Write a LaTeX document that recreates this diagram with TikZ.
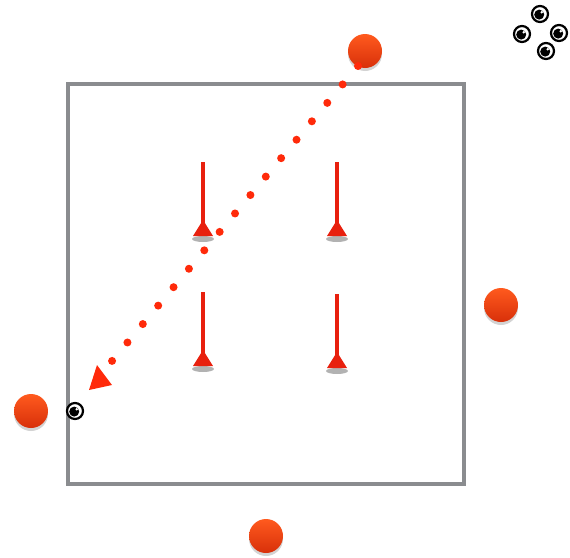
\documentclass[tikz,border=0pt]{standalone}
\usepackage{xcolor}
\usepackage{tikz}
\usetikzlibrary{arrows.meta,calc,positioning,shadows}
\definecolor{fieldGray}{HTML}{8A8C8F}
\definecolor{poleRed}{HTML}{E8200E}
\definecolor{ballTop}{HTML}{FF5A1E}
\definecolor{ballBottom}{HTML}{D8300A}
\definecolor{dotRed}{HTML}{FF2A0A}

\tikzset{
  ball/.style={circle,minimum size=34pt,inner sep=0pt,top color=ballTop,bottom color=ballBottom,
    drop shadow={shadow xshift=0pt,shadow yshift=-3pt,opacity=.35}},
  player/.style={circle,minimum size=16pt,inner sep=0pt,draw=black,line width=2.2pt,fill=white},
}
\newcommand{\playericon}[1]{%
  \fill[black] ($(#1)+(-0.8,0.6)$) circle (5pt);
  \fill[white] ($(#1)+(1.8,-1.8)$) circle (1.4pt);
}
\newcommand{\conepole}[3]{% x, top, base
  \fill[black,opacity=.3] (#1,#3+3) ellipse (11pt and 3pt);
  \fill[poleRed] (#1-2,#2) rectangle (#1+2,#3-6);
  \fill[poleRed] (#1,#3-16) -- (#1+10,#3) -- (#1-10,#3) -- cycle;
}

\begin{document}
\begin{tikzpicture}[x=1pt,y=-1pt,>=Triangle]
    \useasboundingbox (0,0) rectangle (570,557);
    % field
    \draw[fieldGray,line width=4pt] (68,84) rectangle (464,484);
    % poles
    \conepole{203}{162}{236}
    \conepole{337}{162}{236}
    \conepole{203}{292}{366}
    \conepole{337}{294}{368}
    % balls
    \node[ball] (ballN) at (365,51) {};
    \node[ball] (ballE) at (501,305) {};
    \node[ball] (ballW) at (31,411) {};
    \node[ball] (ballS) at (266,536) {};
    % players
    \node[player] (p0) at (75,411) {};
    \playericon{p0}
    \foreach \n/\x/\y in {p1/540/14,p2/522/34,p3/559/33,p4/546/51}{
      \node[player] (\n) at (\x,\y) {};
      \playericon{\n}
    }
    % run
    \coordinate (runStart) at (358,66);
    \coordinate (runEnd) at (112,361);
    \coordinate (tip) at (89,390);
    \draw[dotRed,line width=8pt,line cap=round,dash pattern=on 0pt off 24pt] (runStart) -- (runEnd);
    \fill[dotRed] (tip) -- ($(tip)+(8,-25)$) -- ($(tip)+(23,-5)$) -- cycle;
  \end{tikzpicture}
\end{document}
